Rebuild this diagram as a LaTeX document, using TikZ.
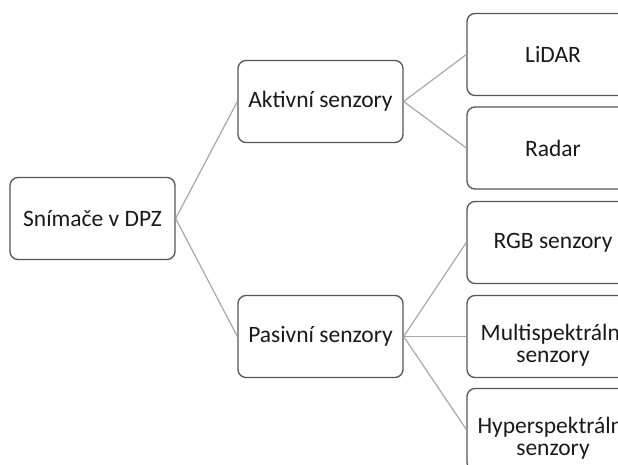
\documentclass[tikz,border=0pt]{standalone}
\usepackage{fontspec}
\setmainfont{Carlito}
\definecolor{boxline}{HTML}{555555}
\definecolor{conn}{HTML}{A8A8A8}
\definecolor{txt}{HTML}{1A1A1A}
\begin{document}
\begin{tikzpicture}[x=1pt,y=-1pt,
  box/.style={draw=boxline, line width=1.3pt, rounded corners=8pt, fill=white,
    minimum width=165pt, minimum height=82pt, align=center, inner sep=0pt,
    text=txt, font=\fontsize{23.5}{26}\selectfont},
  leaf/.style={box, minimum width=172pt},
  twoline/.style={align=center, inner sep=0pt, text=txt,
    font=\fontsize{23.5}{22}\selectfont},
  link/.style={draw=conn, line width=1.2pt}]
\useasboundingbox (0,0) rectangle (618,465);
\clip (0,0) rectangle (618,465);
\node[box] (root) at (92.5,218.5) {Snímače v DPZ};
\node[box] (akt) at (320.5,101.5) {Aktivní senzory};
\node[box] (pas) at (320.5,336.5) {Pasivní senzory};
\node[leaf] (lidar) at (553,54.5) {LiDAR};
\node[leaf] (radar) at (553,148) {Radar};
\node[leaf] (rgb) at (553,242.5) {RGB senzory};
\node[leaf] (multi) at (553,336.5) {};
\node[leaf] (hyper) at (553,429.5) {};
\node[twoline] (multi-t) at ([yshift=-9pt]multi.center) {Multispektrální\\senzory};
\node[twoline] (hyper-t) at ([yshift=-9pt]hyper.center) {Hyperspektrální\\senzory};
\draw[link] (root.east) -- (akt.west);
\draw[link] (root.east) -- (pas.west);
\draw[link] (akt.east) -- (lidar.west);
\draw[link] (akt.east) -- (radar.west);
\draw[link] (pas.east) -- (rgb.west);
\draw[link] (pas.east) -- (multi.west);
\draw[link] (pas.east) -- (hyper.west);
\end{tikzpicture}
\end{document}
